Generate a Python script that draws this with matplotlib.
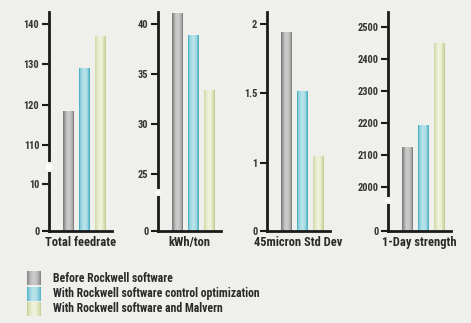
import numpy as np
import matplotlib.pyplot as plt
from matplotlib.colors import LinearSegmentedColormap, to_rgb

plt.rcParams['font.family'] = ['Liberation Sans Narrow', 'DejaVu Sans Condensed',
                               'Roboto Condensed', 'Roboto', 'DejaVu Sans']

# data
metrics = ['Total feedrate', 'kWh/ton', '45micron Std Dev', '1-Day strength']
series = ['Before Rockwell software',
          'With Rockwell software control optimization',
          'With Rockwell software and Malvern']
feedrate = [118.5, 129, 137]
kwh_ton = [41.1, 38.9, 33.4]
std_dev = [1.94, 1.52, 1.05]
strength = [2124, 2194, 2450]
values = [feedrate, kwh_ton, std_dev, strength]

ticks = [[0, 10, 110, 120, 130, 140],
         [0, 25, 30, 35, 40],
         [0, 1, 1.5, 2],
         [0, 2000, 2100, 2200, 2300, 2400, 2500]]
tick_labels = [['0', '10', '110', '120', '130', '140'],
               ['0', '25', '30', '35', '40'],
               ['0', '1', '1.5', '2'],
               ['0', '2000', '2100', '2200', '2300', '2400', '2500']]

# broken-axis scale: value -> pixel height above baseline
scale_vals = [[0, 10, 110, 140, 150],
              [0, 25, 40, 45],
              [0, 1, 2, 2.5],
              [0, 2000, 2500, 2600]]
scale_px = [[0, 47, 86, 207, 247],
            [0, 57, 207, 257],
            [0, 68, 207, 276],
            [0, 44, 204, 236]]
ytops = [143, 41.2, 2.086, 2547]
breaks = [(59, 69), (35, 42), None, (27, 34)]   # px above baseline

edge_cols = ['#7e7e7e', '#4fb2c5', '#c3d094']
mid_cols = ['#cbcbcb', '#b9e3eb', '#eef2db']

bg = '#efefeb'
W, H = 471, 323
fig = plt.figure(figsize=(W / 100, H / 100), dpi=100, facecolor=bg)

spine_x = [49, 158, 267, 388]
ax_w = 63
base_y = 231
ax_h = 219


def shade(edge, mid, n):
    e = np.array(to_rgb(edge))
    m = np.array(to_rgb(mid))
    t = np.linspace(-1, 1, n)
    f = np.cos(t * np.pi / 2) ** 0.8
    return [tuple(e + (m - e) * fi) for fi in f]


nslice = 14
width = 0.7
for k in range(4):
    ax = fig.add_axes([spine_x[k] / W, (H - base_y) / H, ax_w / W, ax_h / H])
    ax.set_facecolor('none')
    sv, sp = scale_vals[k], scale_px[k]
    fwd = lambda v, sv=sv, sp=sp: np.interp(v, sv, sp)
    inv = lambda p, sv=sv, sp=sp: np.interp(p, sp, sv)
    ax.set_yscale('function', functions=(fwd, inv))

    x = np.arange(3)
    for i in range(3):
        cols = shade(edge_cols[i], mid_cols[i], nslice)
        sw = width / nslice
        offs = -width / 2 + sw * (np.arange(nslice) + 0.5)
        ax.bar(x[i] + offs, [values[k][i]] * nslice, width=sw * 1.02,
               color=cols, linewidth=0)

    ax.set_xlim(-1.25, 2.75)
    ax.set_ylim(0, ytops[k])
    ax.set_yticks(ticks[k])
    ax.set_yticklabels(tick_labels[k], fontweight='semibold')
    ax.set_xticks([])
    ax.minorticks_off()
    for s in ['top', 'right']:
        ax.spines[s].set_visible(False)
    for s in ['left', 'bottom']:
        ax.spines[s].set_linewidth(2)
        ax.spines[s].set_color('#1a1a1a')
    ax.tick_params(axis='y', length=5, width=1.5, color='#1a1a1a',
                   labelsize=7.5, labelcolor='#333333', pad=2)
    ax.set_xlabel(metrics[k], fontsize=9, color='#2a2a2a', labelpad=3.5,
                  fontweight='semibold')

    if breaks[k]:
        b0, b1 = breaks[k]
        ax.plot([0, 0], [b0 / ax_h, b1 / ax_h], color=bg, lw=4,
                transform=ax.transAxes, clip_on=False, zorder=5,
                solid_capstyle='butt')
        ax.plot([0, 0], [(b0 + 2) / ax_h, (b1 - 2) / ax_h], color='white',
                lw=4, transform=ax.transAxes, clip_on=False, zorder=6,
                solid_capstyle='butt')

# legend
leg = fig.add_axes([27 / W, (H - 317) / H, 13 / W, 46 / H])
leg.axis('off')
for i in range(3):
    cols = shade(edge_cols[i], mid_cols[i], 32)
    cmap = LinearSegmentedColormap.from_list('g%d' % i, cols)
    leg.imshow(np.linspace(0, 1, 32)[None, :], cmap=cmap, aspect='auto',
               extent=[0, 1, 2 - i + 0.06, 2 - i + 0.94])
    fig.text(53 / W, (H - (278 + 15.5 * i)) / H, series[i], fontsize=8.5,
             color='#2a2a2a', va='center', ha='left', fontweight='semibold')
leg.set_xlim(0, 1)
leg.set_ylim(0, 3)

fig.savefig('out.png', dpi=100, facecolor=bg)
